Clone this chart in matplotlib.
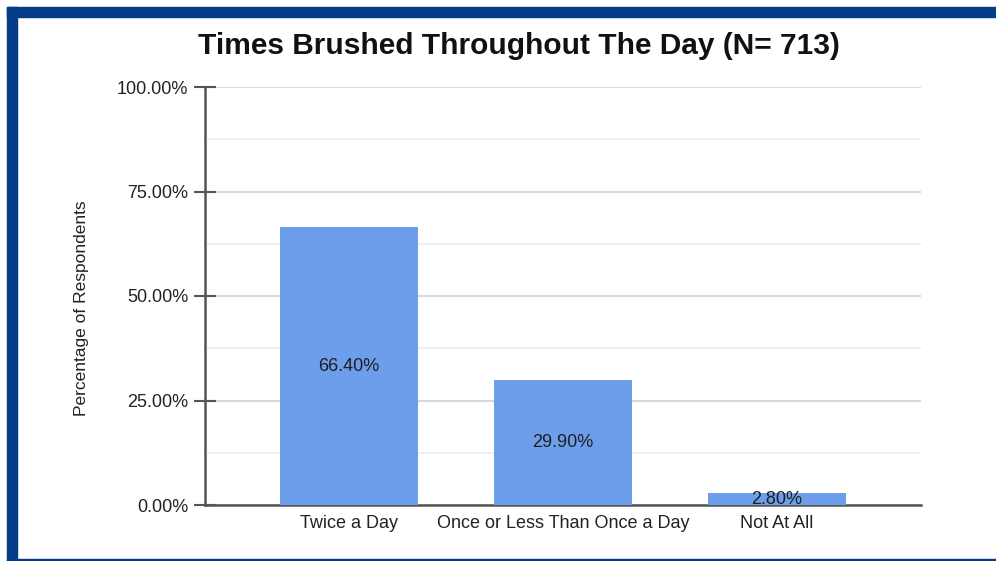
import numpy as np
import matplotlib
matplotlib.use("Agg")
import matplotlib.pyplot as plt
from matplotlib.patches import Rectangle
from matplotlib.ticker import MultipleLocator, FuncFormatter

plt.rcParams['font.family'] = ['Liberation Sans', 'DejaVu Sans']

categories = ['Twice a Day', 'Once or Less Than Once a Day', 'Not At All']
percentages = [66.40, 29.90, 2.80]

BAR_COLOR = '#6d9eeb'
FRAME_BLUE = '#033d87'

W, H = 996, 561
fig = plt.figure(figsize=(W / 100, H / 100), dpi=100)

# dark blue frame (top, left, thin bottom edge)
fig.patches.append(Rectangle((7 / W, 1 - 17 / H), 1 - 7 / W, 10 / H,
                             transform=fig.transFigure, color=FRAME_BLUE, zorder=0))
fig.patches.append(Rectangle((7 / W, 0), 10 / W, 1 - 7 / H,
                             transform=fig.transFigure, color=FRAME_BLUE, zorder=0))
fig.patches.append(Rectangle((7 / W, 0), 1 - 7 / W, 2.5 / H,
                             transform=fig.transFigure, color=FRAME_BLUE, zorder=0))

# axes box in pixels: x 205..921, y 87..505
left, right, top, bottom = 205, 921, 87, 505
ax = fig.add_axes([left / W, 1 - bottom / H, (right - left) / W, (bottom - top) / H])

x = np.arange(len(categories))
bars = ax.bar(x, percentages, width=0.646, color=BAR_COLOR, zorder=3)

for rect, val in zip(bars, percentages):
    ax.text(rect.get_x() + rect.get_width() / 2, val / 2, f'{val:.2f}%',
            ha='center', va='center', fontsize=13, color='#1f1f1f', zorder=4)

ax.set_xlim(-0.674, 2.674)
ax.set_ylim(0, 100)
ax.set_xticks(x)
ax.set_xticklabels(categories, fontsize=13, color='#222222')
ax.tick_params(axis='x', length=0, pad=7)

ax.yaxis.set_major_locator(MultipleLocator(25))
ax.yaxis.set_minor_locator(MultipleLocator(12.5))
ax.yaxis.set_major_formatter(FuncFormatter(lambda v, p: f'{v:.2f}%'))
ax.tick_params(axis='y', which='major', direction='inout', length=16, width=1.5,
               color='#555555', labelsize=13, labelcolor='#222222', pad=4)
ax.tick_params(axis='y', which='minor', length=0)

ax.grid(axis='y', which='major', color='#d9d9d9', linewidth=1.5, zorder=0)
ax.grid(axis='y', which='minor', color='#ececec', linewidth=1.2, zorder=0)

for side in ['top', 'right']:
    ax.spines[side].set_visible(False)
ax.spines['left'].set_color('#555555')
ax.spines['left'].set_linewidth(1.8)
ax.spines['bottom'].set_color('#555555')
ax.spines['bottom'].set_linewidth(1.8)

ax.set_ylabel('Percentage of Respondents', fontsize=12.5, color='#222222')
ax.yaxis.set_label_coords(-0.162, 0.471)

fig.text(519 / W, 1 - 46 / H, 'Times Brushed Throughout The Day (N= 713)',
         ha='center', va='center', fontsize=21.5, fontweight='bold', color='#111111')

fig.savefig('out.png', dpi=100)
